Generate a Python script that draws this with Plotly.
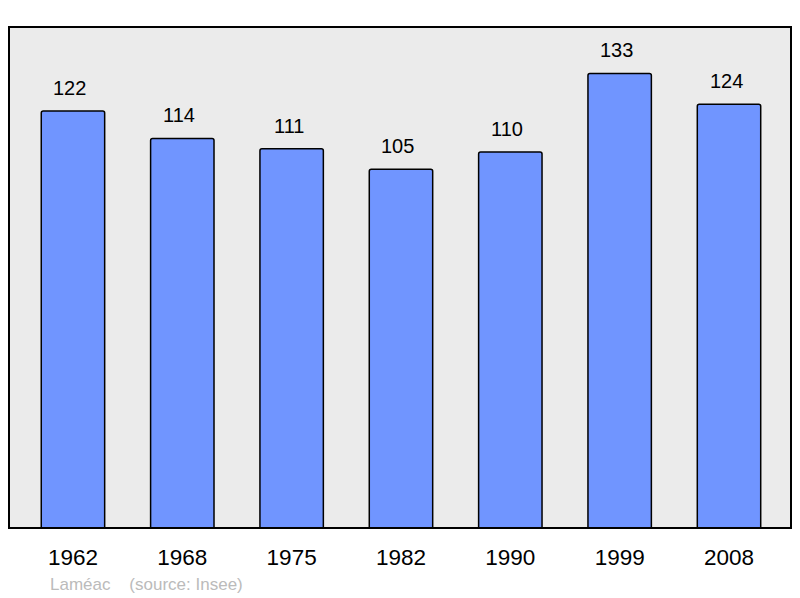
import plotly.graph_objects as go

years = ["1962", "1968", "1975", "1982", "1990", "1999", "2008"]
population = [122, 114, 111, 105, 110, 133, 124]
caption = "Laméac    (source: Insee)"

# page body has an 8px margin, so the figure is a bit smaller than the window
W, H = 784, 590
L, T, B = 1, 19, 70

fig = go.Figure()

fig.add_trace(go.Bar(x=list(range(len(years))), y=population, width=0.58,
                     marker=dict(color="#7095ff", cornerradius=2,
                                 line=dict(color="#000000", width=1.5)),
                     hoverinfo="skip"))

# value labels above bars
for i, p in enumerate(population):
    fig.add_annotation(x=i, y=p, text=str(p), showarrow=False,
                       yanchor="bottom", yshift=10, xshift=-3,
                       font=dict(size=20, color="#000000"))

plot_w = W - 2 * L
plot_h = H - T - B
fig.add_annotation(x=(40 - L) / plot_w, y=-(576 - (H - B)) / plot_h,
                   xref="paper", yref="paper", text=caption,
                   showarrow=False, xanchor="left", yanchor="middle",
                   font=dict(size=17, color="#bbbbbb"))

# border around plot area
fig.add_shape(type="rect", xref="paper", yref="paper", x0=0, x1=1, y0=0, y1=1,
              line=dict(color="#000000", width=2), layer="above")

fig.update_layout(
    width=W, height=H,
    margin=dict(l=L, r=L, t=T, b=B),
    paper_bgcolor="#ffffff",
    plot_bgcolor="#ebebeb",
    font=dict(family="Liberation Sans, Arial, sans-serif"),
    showlegend=False,
)
fig.update_xaxes(range=[-0.585, 6.567], showgrid=False, zeroline=False,
                 tickmode="array", tickvals=list(range(len(years))),
                 ticktext=years, ticks="", ticklabelstandoff=13,
                 tickfont=dict(size=22.5, color="#000000"))
fig.update_yaxes(range=[0, 146.6], showgrid=False, zeroline=False,
                 showticklabels=False)

fig.write_html("out.html")
